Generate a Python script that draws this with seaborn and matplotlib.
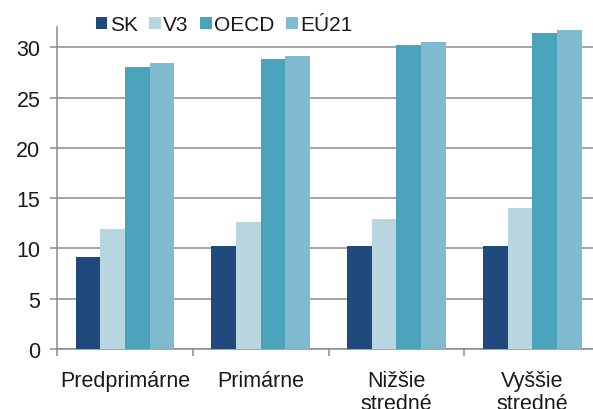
import matplotlib
matplotlib.use("Agg")
import matplotlib.pyplot as plt
from matplotlib.patches import Patch
import pandas as pd
import seaborn as sns

categories = ["Predprimárne", "Primárne", "Nižšie\nstredné", "Vyššie\nstredné"]
series = ["SK", "V3", "OECD", "EÚ21"]
sk = [9.2, 10.2, 10.2, 10.2]
v3 = [11.95, 12.6, 12.95, 14.0]
oecd = [28.05, 28.85, 30.2, 31.4]
eu21 = [28.4, 29.1, 30.5, 31.7]
colors = ["#1f497d", "#b7d6e0", "#4aa3ba", "#7fbace"]

rows = []
for name, vals in zip(series, [sk, v3, oecd, eu21]):
    for cat, v in zip(categories, vals):
        rows.append({"cat": cat, "series": name, "value": v})
df = pd.DataFrame(rows)

sns.set_style("white")
plt.rcParams["font.family"] = ["Liberation Sans", "DejaVu Sans"]

fig = plt.figure(figsize=(5.93, 4.10), dpi=100)
ax = fig.add_axes([0.0961, 0.1463, 0.9039, 0.7847])

sns.barplot(data=df, x="cat", y="value", hue="series", hue_order=series,
            palette=colors, width=0.727, linewidth=0, saturation=1,
            legend=False, ax=ax, zorder=3)

grey = "#8c8c8c"
ax.set_ylim(0, 32)
ax.set_xlim(-0.5, 3.447)
ax.set_yticks([0, 5, 10, 15, 20, 25, 30])
ax.yaxis.grid(True, color=grey, linewidth=1.1, zorder=0)
ax.set_axisbelow(True)
for s in ["top", "right"]:
    ax.spines[s].set_visible(False)
for s in ["left", "bottom"]:
    ax.spines[s].set_color(grey)
    ax.spines[s].set_linewidth(1.1)

ax.set_xticks([-0.5, 0.5, 1.5, 2.5], minor=True)
ax.tick_params(axis="x", which="major", length=0, pad=15, labelsize=15.5, colors="#1a1a1a")
ax.tick_params(axis="x", which="minor", length=5, width=1.1, color=grey, direction="out")
ax.tick_params(axis="y", which="major", length=5, width=1.1, color=grey, direction="out",
               labelsize=15.5, labelcolor="#1a1a1a", pad=7)
ax.tick_params(axis="y", left=True)
ax.tick_params(axis="x", which="minor", bottom=True)
ax.set_xlabel("")
ax.set_ylabel("")
for lab in ax.get_xticklabels():
    lab.set_linespacing(1.15)

handles = [Patch(facecolor=c, edgecolor="none") for c in colors]
fig.legend(handles, series, loc="center", bbox_to_anchor=(0.378, 0.937), ncol=4,
           frameon=False, fontsize=15, handlelength=0.55, handleheight=0.55,
           handletextpad=0.12, columnspacing=0.55, borderpad=0, labelcolor="#1a1a1a")

fig.savefig("out.png", dpi=100)
